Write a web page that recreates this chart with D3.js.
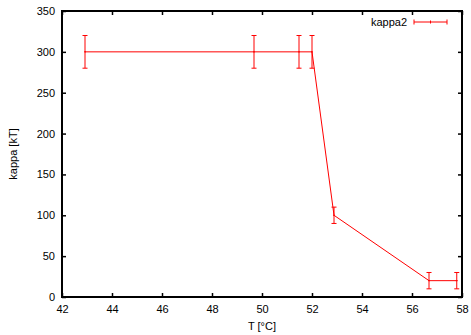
<!DOCTYPE html>
<html>
<head>
<meta charset="utf-8">
<script src="https://cdn.jsdelivr.net/npm/d3@7"></script>
<style>
  html, body { margin: 0; padding: 0; background: #fff; }
  text { font-family: "Liberation Sans", Arial, Helvetica, sans-serif; }
</style>
</head>
<body>
<svg id="chart" width="471" height="335"></svg>
<script>
// Measured bending rigidity vs. temperature
const temperatures = [42.92, 49.68, 51.48, 52.0, 52.88, 56.68, 57.79];
const kappaValues  = [300, 300, 300, 300, 100, 20, 20];
const kappaErrors  = [20, 20, 20, 20, 10, 10, 10];
const xTicks = [42, 44, 46, 48, 50, 52, 54, 56, 58];
const yTicks = [0, 50, 100, 150, 200, 250, 300, 350];
const seriesName = "kappa2";

const svg = d3.select("#chart");
const plotLeft = 62, plotRight = 462, plotTop = 11, plotBottom = 297;
const red = "#ff0000";

const x = d3.scaleLinear().domain([42, 58]).range([plotLeft, plotRight]);
const y = d3.scaleLinear().domain([0, 350]).range([plotBottom, plotTop]);

const tickLen = 4;
const fontSize = 11;

// axes: labels outside, ticks pointing inward, mirrored on top/right
const gx = svg.append("g").attr("transform", `translate(0,${plotBottom})`)
  .call(d3.axisBottom(x).tickValues(xTicks).tickSizeInner(-tickLen).tickSizeOuter(0).tickPadding(8));
const gy = svg.append("g").attr("transform", `translate(${plotLeft},0)`)
  .call(d3.axisLeft(y).tickValues(yTicks).tickSizeInner(-tickLen).tickSizeOuter(0).tickPadding(7));
const gxt = svg.append("g").attr("transform", `translate(0,${plotTop})`)
  .call(d3.axisTop(x).tickValues(xTicks).tickSizeInner(-tickLen).tickSizeOuter(0).tickFormat(""));
const gyr = svg.append("g").attr("transform", `translate(${plotRight},0)`)
  .call(d3.axisRight(y).tickValues(yTicks).tickSizeInner(-tickLen).tickSizeOuter(0).tickFormat(""));

[gx, gy, gxt, gyr].forEach(g => {
  g.select(".domain").remove();
  g.selectAll(".tick line").attr("stroke", "#000").attr("stroke-width", 1.5);
  g.selectAll(".tick text").attr("font-size", fontSize).attr("fill", "#000")
    .attr("font-family", "Liberation Sans, Arial, sans-serif");
});

// plot border
svg.append("rect")
  .attr("x", plotLeft).attr("y", plotTop)
  .attr("width", plotRight - plotLeft).attr("height", plotBottom - plotTop)
  .attr("fill", "none").attr("stroke", "#000").attr("stroke-width", 2);

// axis titles
svg.append("text")
  .attr("x", x(50.0)).attr("y", 330)
  .attr("text-anchor", "middle").attr("font-size", fontSize)
  .text("T [°C]");
svg.append("text")
  .attr("transform", `translate(17,${(plotTop + plotBottom) / 2}) rotate(-90)`)
  .attr("text-anchor", "middle").attr("font-size", fontSize)
  .text("kappa [kT]");

const data = temperatures.map((t, i) => ({ t, k: kappaValues[i], e: kappaErrors[i] }));

// connecting line
svg.append("path")
  .datum(data)
  .attr("fill", "none").attr("stroke", red).attr("stroke-width", 1)
  .attr("d", d3.line().x(d => x(d.t)).y(d => y(d.k)));

// error bars
const cap = 2.5;
const eb = svg.append("g").attr("stroke", red).attr("stroke-width", 1);
data.forEach(d => {
  const cx = x(d.t), y1 = y(d.k + d.e), y2 = y(d.k - d.e);
  eb.append("line").attr("x1", cx).attr("x2", cx).attr("y1", y1).attr("y2", y2);
  eb.append("line").attr("x1", cx - cap).attr("x2", cx + cap).attr("y1", y1).attr("y2", y1);
  eb.append("line").attr("x1", cx - cap).attr("x2", cx + cap).attr("y1", y2).attr("y2", y2);
  eb.append("line").attr("x1", cx - 1).attr("x2", cx + 1).attr("y1", y(d.k)).attr("y2", y(d.k));
});

// legend
const ly = 22;
svg.append("text")
  .attr("x", 407).attr("y", ly + 4)
  .attr("text-anchor", "end").attr("font-size", fontSize)
  .text(seriesName);
const lg = svg.append("g").attr("stroke", red).attr("stroke-width", 1);
lg.append("line").attr("x1", 414).attr("x2", 447).attr("y1", ly).attr("y2", ly);
[414, 447].forEach(px => lg.append("line").attr("x1", px).attr("x2", px).attr("y1", ly - 2.5).attr("y2", ly + 2.5));
lg.append("line").attr("x1", 430.5).attr("x2", 430.5).attr("y1", ly - 1.5).attr("y2", ly + 1.5);
</script>
</body>
</html>
